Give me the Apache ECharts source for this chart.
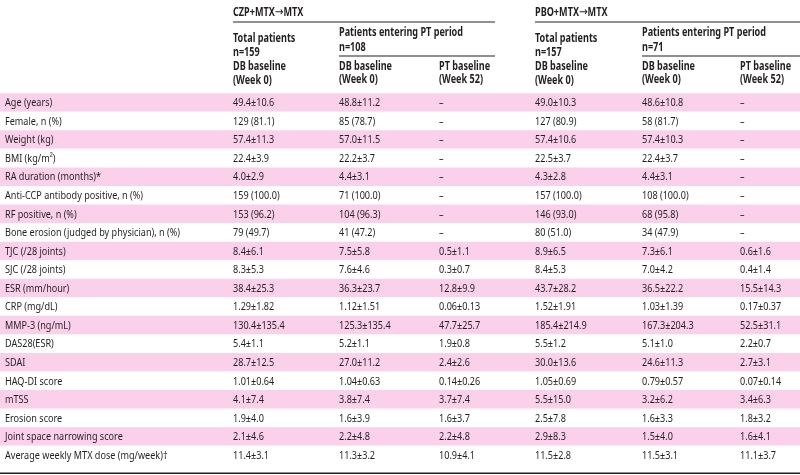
<!DOCTYPE html>
<html>
<head>
<meta charset="utf-8">
<script src="https://cdn.jsdelivr.net/npm/echarts@6/dist/echarts.min.js"></script>
<style>html,body{margin:0;padding:0;background:#fff}#c{width:800px;height:475px}</style>
</head>
<body>
<div id="c"></div>
<script>
const rowLabels = [
  'Age (years)', 'Female, n (%)', 'Weight (kg)', 'BMI (kg/m\u00B2)', 'RA duration (months)*',
  'Anti-CCP antibody positive, n (%)', 'RF positive, n (%)', 'Bone erosion (judged by physician), n (%)',
  'TJC (/28 joints)', 'SJC (/28 joints)', 'ESR (mm/hour)', 'CRP (mg/dL)', 'MMP-3 (ng/mL)', 'DAS28(ESR)',
  'SDAI', 'HAQ-DI score', 'mTSS', 'Erosion score', 'Joint space narrowing score',
  'Average weekly MTX dose (mg/week)\u2020'
];
const czpTotalDB = ['49.4±10.6','129 (81.1)','57.4±11.3','22.4±3.9','4.0±2.9','159 (100.0)','153 (96.2)','79 (49.7)',
  '8.4±6.1','8.3±5.3','38.4±25.3','1.29±1.82','130.4±135.4','5.4±1.1','28.7±12.5','1.01±0.64','4.1±7.4','1.9±4.0','2.1±4.6','11.4±3.1'];
const czpPtDB = ['48.8±11.2','85 (78.7)','57.0±11.5','22.2±3.7','4.4±3.1','71 (100.0)','104 (96.3)','41 (47.2)',
  '7.5±5.8','7.6±4.6','36.3±23.7','1.12±1.51','125.3±135.4','5.2±1.1','27.0±11.2','1.04±0.63','3.8±7.4','1.6±3.9','2.2±4.8','11.3±3.2'];
const czpPtW52 = ['–','–','–','–','–','–','–','–',
  '0.5±1.1','0.3±0.7','12.8±9.9','0.06±0.13','47.7±25.7','1.9±0.8','2.4±2.6','0.14±0.26','3.7±7.4','1.6±3.7','2.2±4.8','10.9±4.1'];
const pboTotalDB = ['49.0±10.3','127 (80.9)','57.4±10.6','22.5±3.7','4.3±2.8','157 (100.0)','146 (93.0)','80 (51.0)',
  '8.9±6.5','8.4±5.3','43.7±28.2','1.52±1.91','185.4±214.9','5.5±1.2','30.0±13.6','1.05±0.69','5.5±15.0','2.5±7.8','2.9±8.3','11.5±2.8'];
const pboPtDB = ['48.6±10.8','58 (81.7)','57.4±10.3','22.4±3.7','4.4±3.1','108 (100.0)','68 (95.8)','34 (47.9)',
  '7.3±6.1','7.0±4.2','36.5±22.2','1.03±1.39','167.3±204.3','5.1±1.0','24.6±11.3','0.79±0.57','3.2±6.2','1.6±3.3','1.5±4.0','11.5±3.1'];
const pboPtW52 = ['–','–','–','–','–','–','–','–',
  '0.6±1.6','0.4±1.4','15.5±14.3','0.17±0.37','52.5±31.1','2.2±0.7','2.7±3.1','0.07±0.14','3.4±6.3','1.8±3.2','1.6±4.1','11.1±3.7'];
const groupNames = [['CZP+MTX', 'MTX'], ['PBO+MTX', 'MTX']];
const totalHeaders = ['Total patients\nn=159', 'Total patients\nn=157'];
const ptHeaders = ['Patients entering PT period\nn=108', 'Patients entering PT period\nn=71'];
const dbHeader = 'DB baseline\n(Week 0)';
const ptBaseHeader = 'PT baseline\n(Week 52)';

// layout
const columns = [rowLabels, czpTotalDB, czpPtDB, czpPtW52, pboTotalDB, pboPtDB, pboPtW52];
const colX = [5, 233, 339, 439, 535, 642, 740];
const FONT = 'Noto Sans';
const FS = 11.5;
const SX = 0.79;
const INK = '#231f20';

const cellData = [];
const cellText = [];
columns.forEach((col, c) => col.forEach((t, r) => { cellData.push([colX[c], r]); cellText.push(t); }));

const g = [];
function txt(x, y, s, bold, lh, rich) {
  const st = { text: s, fontFamily: FONT, fontSize: FS, fontWeight: bold ? 'bold' : 'normal', fill: INK, lineHeight: lh || 13.8, verticalAlign: 'top' };
  if (rich) st.rich = rich;
  g.push({ type: 'text', x: x, y: y, scaleX: SX, style: st });
}
function hline(x1, x2, y, w) {
  g.push({ type: 'line', shape: { x1: x1, y1: y, x2: x2, y2: y }, style: { stroke: INK, lineWidth: w || 1 } });
}
[[1, 495], [4, 800]].forEach((p, i) => {
  const x0 = colX[p[0]];
  txt(x0, 6, groupNames[i][0] + '{ar|\u2192}' + groupNames[i][1], true, 14,
      { ar: { fontFamily: 'DejaVu Sans', fontSize: 13, fontWeight: 'normal', fill: INK, padding: [0, 0, 0, 0] } });
  hline(x0, p[1], 22, 1);
  txt(x0, 32, totalHeaders[i] + '\n' + dbHeader, true);
  txt(colX[p[0] + 1], 25.5, ptHeaders[i], true, 14.8);
  hline(colX[p[0] + 1], p[1], 56, 1);
  txt(colX[p[0] + 1], 59.5, dbHeader, true);
  txt(colX[p[0] + 2], 59.5, ptBaseHeader, true);
});
hline(0, 800, 473.3, 1.5);

const chart = echarts.init(document.getElementById('c'), null, { renderer: 'canvas' });
chart.setOption({
  animation: false,
  grid: { left: 0, right: 0, top: 93.2, bottom: 10.7 },
  xAxis: { type: 'value', min: 0, max: 800, show: false },
  yAxis: {
    type: 'category', data: rowLabels, inverse: true,
    axisLine: { show: false }, axisTick: { show: false },
    axisLabel: { show: false, interval: 0 },
    splitLine: { show: false },
    splitArea: { show: true, interval: 0, areaStyle: { color: ['#fbd0ea', '#ffffff'] } }
  },
  series: [{
    type: 'custom', data: cellData, silent: true,
    renderItem: function (params, api) {
      const pt = api.coord([api.value(0), api.value(1)]);
      return {
        type: 'text', x: pt[0], y: pt[1] + 0.5, scaleX: SX,
        style: { text: cellText[params.dataIndex], fontFamily: FONT, fontSize: FS, fill: INK, align: 'left', verticalAlign: 'middle' }
      };
    }
  }],
  graphic: g
});
</script>
</body>
</html>
